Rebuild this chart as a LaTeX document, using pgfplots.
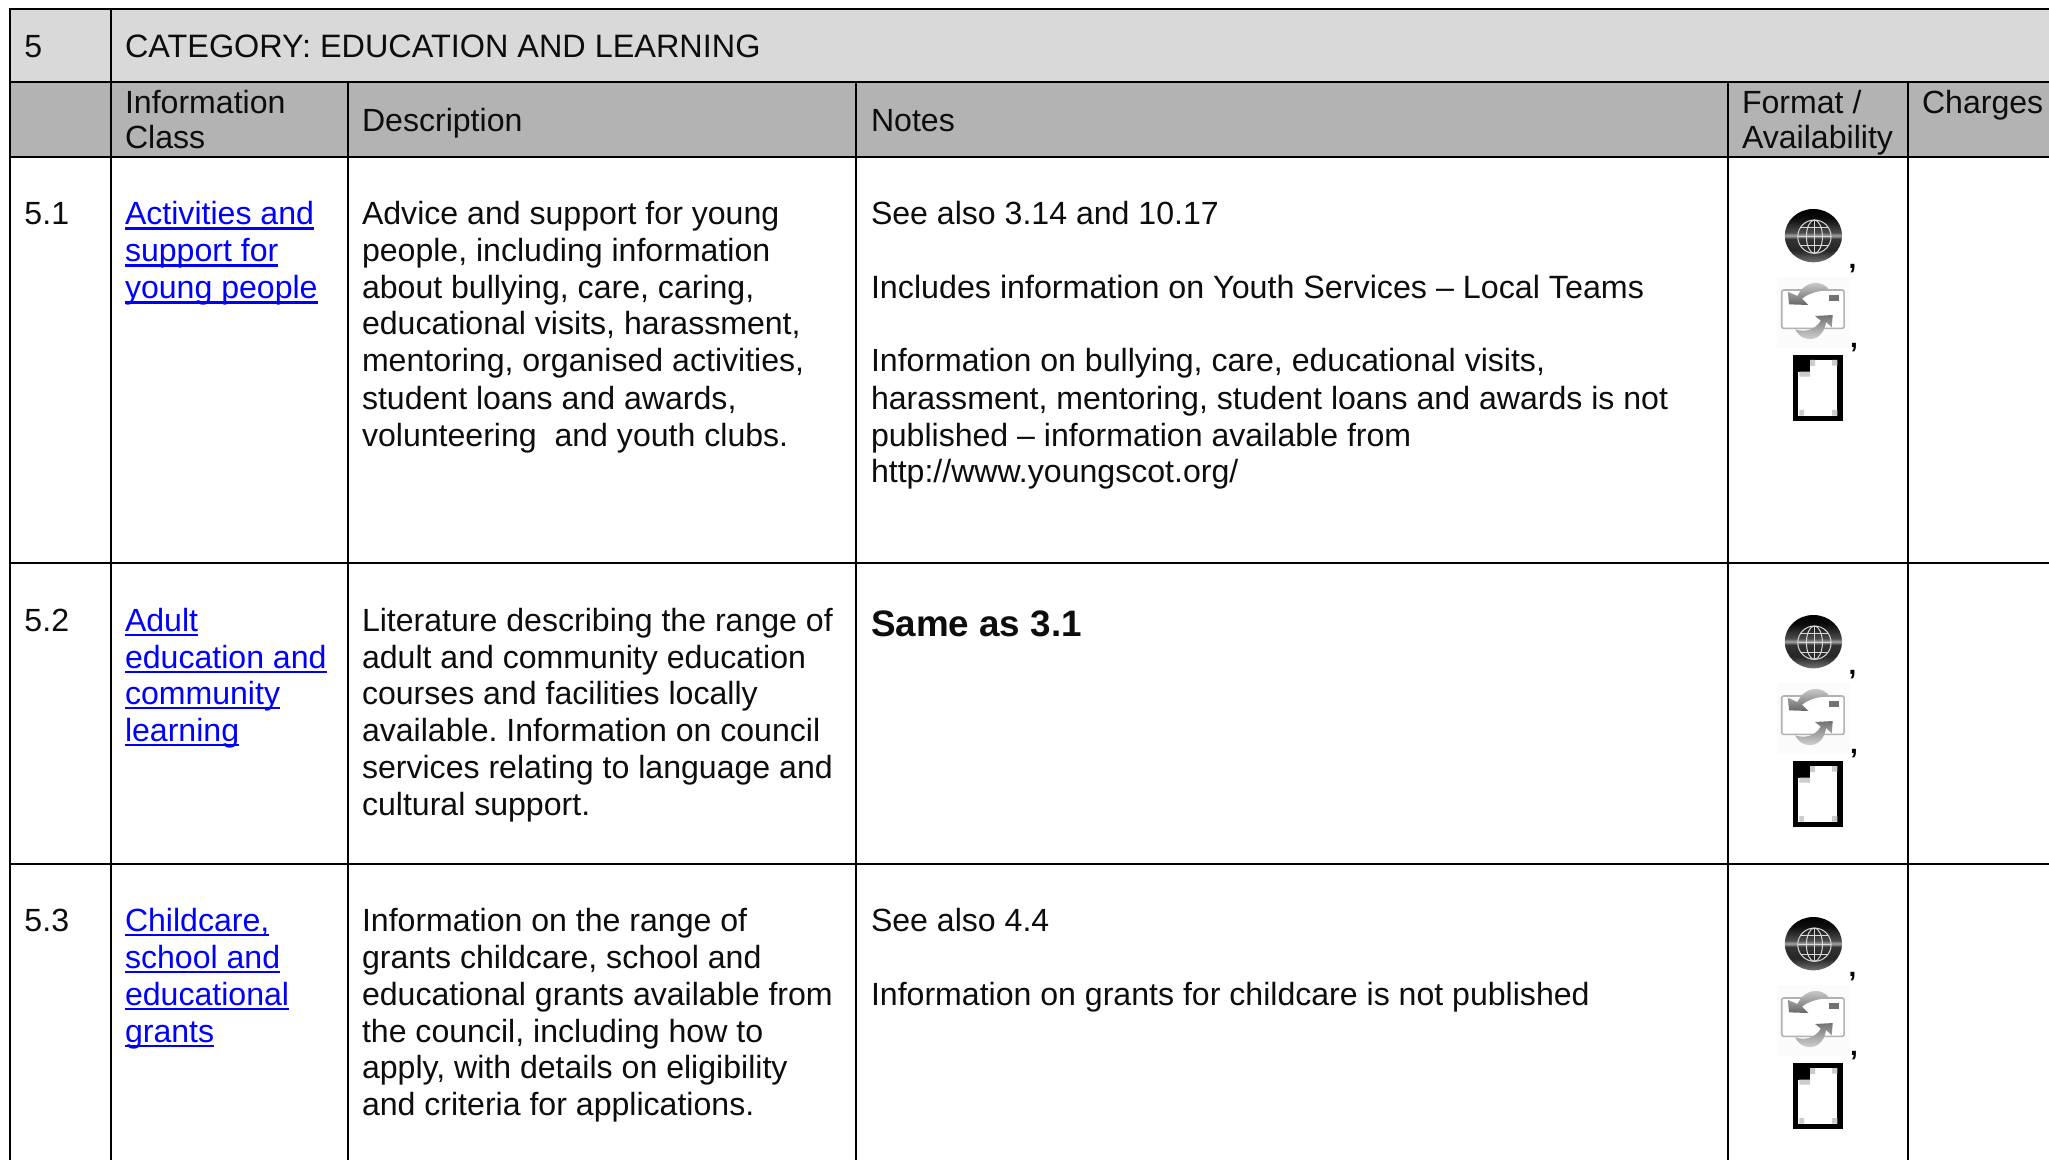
\documentclass[border=0pt]{standalone}
\usepackage{pgfplots}
\pgfplotsset{compat=1.18}
\usepackage{fontspec}
\setmainfont{Liberation Sans}
\frenchspacing
\definecolor{linkblue}{RGB}{0,0,255}
\definecolor{headA}{RGB}{217,217,217}
\definecolor{headB}{RGB}{179,179,179}
\newcommand\ulk[1]{\sbox0{#1}\rlap{\rule[-2.5pt]{\wd0}{1.25pt}}#1}
\newcommand\tl[3]{\node[anchor=base west,inner sep=0pt,outer sep=0pt,text=black!95] at (axis cs:#1,#2) {\strut #3};}
\newcommand\lk[3]{\node[anchor=base west,inner sep=0pt,outer sep=0pt,text=linkblue] at (axis cs:#1,#2) {\ulk{#3}};}
\pgfdeclareverticalshading{globeshade}{100bp}{color(0bp)=(black!55); color(25bp)=(black!55); color(36bp)=(black!85); color(47bp)=(black!80); color(50bp)=(black!35); color(53bp)=(black!70); color(66bp)=(black!95); color(75bp)=(black); color(100bp)=(black)}
\newcommand\icons[1]{%
\begin{scope}[shift={(5160,570+#1)}]
 % globe
 \shade[shading=globeshade] (280,137) ellipse [x radius=86,y radius=80];
 \begin{scope}[draw=black!15,line width=0.5pt]
  \draw (283,140) circle (50);
  \draw (283,140) ellipse [x radius=24,y radius=50];
  \draw (283,90) -- (283,190);
  \draw (233,140) -- (333,140);
  \draw (243,112) -- (323,112);
  \draw (243,168) -- (323,168);
 \end{scope}
 % envelope
 \fill[black!1.5] (170,262) rectangle (390,475);
 \draw[black!30,line width=0.8pt,fill=white,rounded corners=1pt] (185,300) rectangle (372,415);
 \fill[black!55] (327,315) rectangle (358,333);
 \shade[top color=black!15,bottom color=black!60] (203,305) -- (207,343) -- (265,345) -- (246,326) .. controls (265,310) and (295,302) .. (328,300) .. controls (305,268) and (255,270) .. (232,318) -- cycle;
 \shade[top color=black!55,bottom color=black!10] (285,378) -- (338,375) -- (335,412) -- (318,396) .. controls (310,455) and (250,465) .. (225,418) .. controls (255,428) and (285,420) .. (302,392) -- cycle;
 % document
 \fill[black] (219,495) rectangle (368,692);
 \fill[white] (235,510) rectangle (352,677);
 \fill[black] (235,510) rectangle (270,545);
 \fill[black!20] (270,510) rectangle (285,528) (238,545) rectangle (270,560) (336,510) rectangle (352,527) (238,660) rectangle (252,677) (336,660) rectangle (352,677);
 % commas
 \node[font=\fontsize{14}{14}\selectfont\bfseries,inner sep=0pt,anchor=base] at (397,236) {,};
 \node[font=\fontsize{14}{14}\selectfont\bfseries,inner sep=0pt,anchor=base] at (402,472) {,};
\end{scope}}
\begin{document}
\begin{tikzpicture}
\useasboundingbox (0pt,0pt) rectangle (1024.5pt,580pt);
\begin{axis}[
  hide axis, scale only axis, width=1024.5pt, height=580pt,
  xmin=0, xmax=2049, ymin=0, ymax=1160, y dir=reverse,
  axis line style={draw=none}, clip=true,
  every axis plot/.style={no marks},
  font=\fontsize{16.04}{18}\selectfont]
% page
\addplot[fill=white,draw=none,forget plot] coordinates {(0,0) (2049,0) (2049,1160) (0,1160)} -- cycle;
% header bands
\addplot[fill=headA,draw=none,forget plot] coordinates {(10,9) (2049,9) (2049,82) (10,82)} -- cycle;
\addplot[fill=headB,draw=none,forget plot] coordinates {(10,82) (2049,82) (2049,157) (10,157)} -- cycle;
% rules
\pgfplotsset{rule/.style={black,line width=1.15pt,forget plot}}
\addplot[rule] coordinates {(9,9) (2049,9)};
\addplot[rule] coordinates {(10,82) (2049,82)};
\addplot[rule] coordinates {(10,157) (2049,157)};
\addplot[rule] coordinates {(10,563) (2049,563)};
\addplot[rule] coordinates {(10,864) (2049,864)};
\addplot[rule] coordinates {(10,9) (10,1160)};
\addplot[rule] coordinates {(111,9) (111,1160)};
\addplot[rule] coordinates {(348,82) (348,1160)};
\addplot[rule] coordinates {(856,82) (856,1160)};
\addplot[rule] coordinates {(1728,82) (1728,1160)};
\addplot[rule] coordinates {(1908,82) (1908,1160)};
% header text
\tl{24.5}{58}{5}
\tl{125}{58}{\fontsize{16.2}{18}\selectfont CATEGORY: EDUCATION AND LEARNING}
\tl{125}{114}{Information}
\tl{125}{149}{Class}
\tl{362}{132}{Description}
\tl{871}{132}{Notes}
\tl{1742}{114}{Format /}
\tl{1742}{149}{Availability}
\tl{1922}{114}{Charges}
% row 5.1
\tl{24.5}{225}{5.1}
\lk{125}{225}{Activities and}
\lk{125}{262}{support for}
\lk{125}{299}{young people}
\tl{362}{225}{Advice and support for young}
\tl{362}{262}{people, including information}
\tl{362}{299}{about bullying, care, caring,}
\tl{362}{335}{educational visits, harassment,}
\tl{362}{372}{mentoring, organised activities,}
\tl{362}{409}{student loans and awards,}
\tl{362}{446}{volunteering\ \ and youth clubs.}
\tl{871}{225}{See also 3.14 and 10.17}
\tl{871}{299}{\fontsize{16.12}{18}\selectfont Includes information on Youth Services – Local Teams}
\tl{871}{372}{Information on bullying, care, educational visits,}
\tl{871}{409}{harassment, mentoring, student loans and awards is not}
\tl{871}{446}{published – information available from}
\tl{871}{482}{http://www.youngscot.org/}
% row 5.2
\tl{24.5}{631}{5.2}
\lk{125}{631}{Adult}
\lk{125}{668}{education and}
\lk{125}{704}{community}
\lk{125}{741}{learning}
\tl{362}{631}{Literature describing the range of}
\tl{362}{668}{adult and community education}
\tl{362}{704}{courses and facilities locally}
\tl{362}{741}{available. Information on council}
\tl{362}{778}{services relating to language and}
\tl{362}{815}{cultural support.}
\tl{871}{636}{\fontsize{18.4}{20}\selectfont\bfseries Same as 3.1}
% row 5.3
\tl{24.5}{931}{5.3}
\lk{125}{931}{Childcare,}
\lk{125}{968}{school and}
\lk{125}{1005}{educational}
\lk{125}{1042}{grants}
\tl{362}{931}{Information on the range of}
\tl{362}{968}{grants childcare, school and}
\tl{362}{1005}{educational grants available from}
\tl{362}{1042}{the council, including how to}
\tl{362}{1078}{apply, with details on eligibility}
\tl{362}{1115}{and criteria for applications.}
\tl{871}{931}{See also 4.4}
\tl{871}{1005}{Information on grants for childcare is not published}
\end{axis}
\begin{scope}[shift={(0pt,580pt)},x=0.16667pt,y=-0.16667pt]
\icons{0}
\icons{1218}
\icons{2124}
\end{scope}
\end{tikzpicture}
\end{document}
